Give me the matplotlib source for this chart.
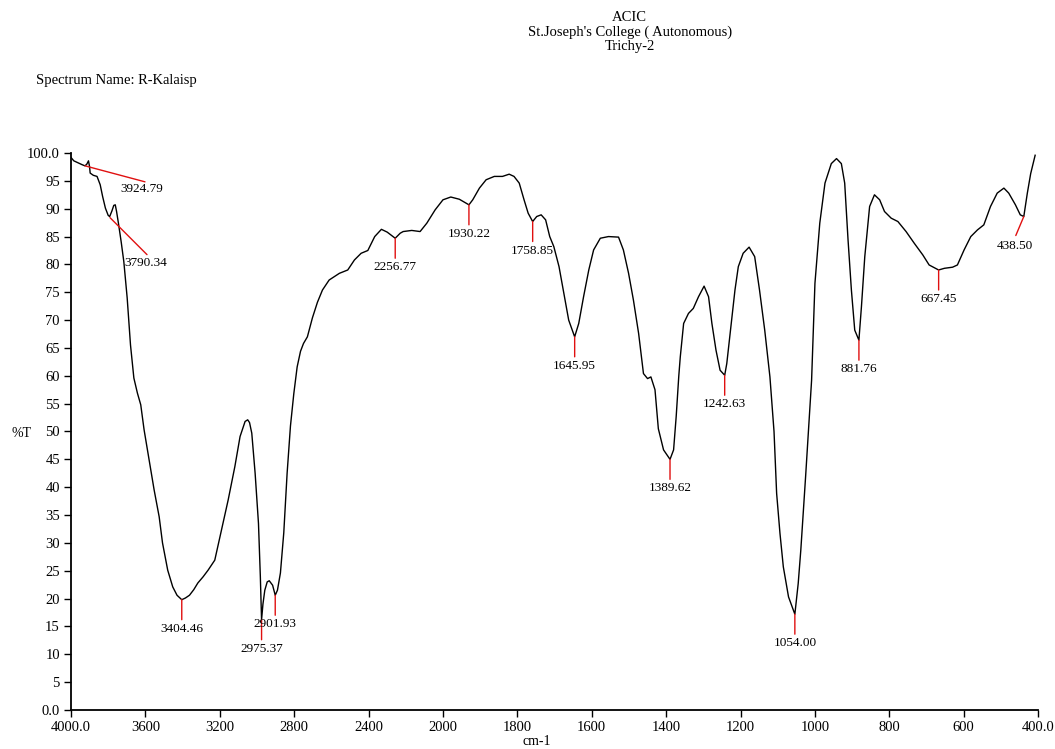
import numpy as np
import matplotlib
matplotlib.use("Agg")
import matplotlib.pyplot as plt
from matplotlib.ticker import FixedLocator, FixedFormatter

# spectrum trace (wavenumber cm-1, %T)
wavenumber = [
    4000, 3985, 3960, 3940, 3924.8, 3915, 3906, 3900, 3897, 3880, 3860, 3843,
    3830, 3815, 3800, 3792, 3780, 3770, 3762, 3755, 3745, 3730, 3716, 3698,
    3680, 3662, 3643, 3625, 3607, 3580, 3553, 3526, 3508, 3480, 3453, 3430,
    3404.5, 3385, 3363, 3340, 3318, 3290, 3263, 3227, 3191, 3155, 3119, 3091,
    3064, 3050, 3040, 3028, 3010, 2992, 2982, 2975.4, 2968, 2958, 2945, 2934,
    2916, 2901.9, 2890, 2874, 2856, 2838, 2820, 2802, 2784, 2766, 2750, 2729,
    2702, 2675, 2648, 2612, 2557, 2512, 2476, 2440, 2404, 2367, 2331, 2300,
    2256.8, 2230, 2214, 2168, 2123, 2087, 2042, 2000, 1979, 1956, 1930.2, 1920,
    1902, 1884, 1862, 1840, 1822, 1809, 1795, 1782, 1771, 1758.9, 1748, 1736,
    1724, 1713, 1702, 1688, 1675, 1662, 1646, 1635, 1622, 1608, 1595, 1577,
    1555, 1528, 1515, 1501, 1488, 1474, 1461, 1450, 1441, 1430, 1421, 1407,
    1389.6, 1380, 1373, 1366, 1362, 1353, 1340, 1327, 1313, 1298, 1286, 1277,
    1266, 1255, 1242.6, 1237, 1227, 1215, 1206, 1193, 1177, 1162, 1149, 1135,
    1121, 1110, 1103, 1094, 1085, 1071, 1054, 1045, 1038, 1025, 1009, 1000,
    987, 973, 956, 942, 929, 920, 911, 902, 893, 881.8, 875, 866,
    853, 840, 826, 813, 795, 777, 755, 733, 710, 693, 667.5, 652,
    630, 617, 599, 581, 563, 546, 528, 510, 492, 479, 461, 448,
    438.5, 429, 420, 408,
]
transmittance = [
    99.2, 98.6, 98.2, 97.9, 97.7, 98.0, 98.6, 97.5, 96.4, 96.0, 95.8, 94.3,
    92.2, 90.1, 88.8, 88.6, 89.6, 90.6, 90.7, 89.5, 87.4, 84.0, 80.5, 74.0,
    65.5, 59.6, 56.9, 54.8, 50.3, 44.9, 39.5, 34.7, 30.0, 25.1, 22.1, 20.6,
    19.8, 20.1, 20.6, 21.6, 22.8, 23.9, 25.1, 26.9, 32.3, 37.7, 43.7, 49.1,
    51.8, 52.1, 51.6, 49.7, 42.5, 33.5, 24.0, 16.2, 19.0, 21.5, 23.0, 23.2,
    22.4, 20.6, 21.5, 24.6, 31.8, 42.5, 51.0, 56.8, 61.6, 64.4, 65.8, 67.0,
    70.4, 73.2, 75.4, 77.2, 78.4, 79.0, 80.8, 82.0, 82.5, 85.0, 86.3, 85.8,
    84.7, 85.6, 85.9, 86.1, 85.9, 87.4, 89.8, 91.6, 92.1, 91.7, 90.7, 91.6,
    93.7, 95.2, 95.8, 95.8, 96.2, 95.8, 94.6, 91.6, 89.2, 87.7, 88.6, 88.9,
    88.0, 85.0, 83.2, 79.6, 74.8, 70.0, 67.0, 69.4, 74.2, 79.0, 82.6, 84.7,
    85.0, 84.9, 82.6, 78.4, 73.6, 67.6, 60.4, 59.5, 59.8, 57.5, 50.5, 46.7,
    45.0, 46.7, 52.7, 60.0, 63.4, 69.4, 71.2, 72.1, 74.2, 76.1, 74.2, 69.4,
    64.6, 61.0, 60.1, 62.2, 68.2, 75.4, 79.6, 82.0, 83.1, 81.4, 75.4, 68.2,
    59.8, 50.0, 38.9, 31.7, 25.7, 20.3, 17.2, 22.7, 28.7, 42.0, 59.2, 76.6,
    87.4, 94.6, 98.1, 99.0, 98.1, 94.6, 84.4, 75.4, 68.2, 66.4, 72.4, 81.4,
    90.4, 92.5, 91.6, 89.5, 88.3, 87.7, 85.9, 83.8, 81.7, 79.9, 79.0, 79.3,
    79.5, 79.9, 82.6, 85.0, 86.2, 87.1, 90.4, 92.8, 93.7, 92.8, 90.7, 88.9,
    88.6, 92.8, 96.3, 99.6,
]

# labelled peaks
peak_wn = [3924.79, 3790.34, 3404.46, 2975.37, 2901.93, 2256.77, 1930.22,
           1758.85, 1645.95, 1389.62, 1242.63, 1054.00, 881.76, 667.45, 438.50]
peak_t = [97.7, 88.4, 19.8, 16.2, 20.6, 84.7, 90.7,
          87.7, 67.0, 45.0, 60.1, 17.2, 66.4, 79.0, 88.6]
peak_labels = ["3924.79", "3790.34", "3404.46", "2975.37", "2901.93", "2256.77",
               "1930.22", "1758.85", "1645.95", "1389.62", "1242.63", "1054.00",
               "881.76", "667.45", "438.50"]

x_ticks = [4000, 3600, 3200, 2800, 2400, 2000, 1800, 1600, 1400, 1200, 1000, 800, 600, 400]
x_tick_labels = ["4000.0", "3600", "3200", "2800", "2400", "2000", "1800", "1600",
                 "1400", "1200", "1000", "800", "600", "400.0"]
y_ticks = list(range(0, 101, 5))
y_tick_labels = ["0.0"] + [str(v) for v in y_ticks[1:-1]] + ["100.0"]

# line end / label offsets in pixels; slanted leaders for three peaks
lead_end = {"3924.79": (60, -16), "3790.34": (37, -37), "438.50": (-8, -19)}
label_off = {"3924.79": (57, -23), "3790.34": (36, -45), "438.50": (-9, -29)}


def fwd(x):
    x = np.asarray(x, dtype=float)
    return np.where(x > 2000, 2000 + (x - 2000) / 2.0, x)


def inv(u):
    u = np.asarray(u, dtype=float)
    return np.where(u > 2000, 2000 + (u - 2000) * 2.0, u)


plt.rcParams["font.family"] = ["Liberation Serif", "DejaVu Serif"]

fig = plt.figure(figsize=(10.55, 7.49), dpi=100)
ax = fig.add_axes([0.0673, 0.0521, 0.9167, 0.7436])

ax.plot(wavenumber, transmittance, color="black", lw=1.0)

ax.set_xscale("function", functions=(fwd, inv))
ax.set_xlim(4000, 400)
ax.set_ylim(0, 100)
ax.xaxis.set_major_locator(FixedLocator(x_ticks))
ax.xaxis.set_major_formatter(FixedFormatter(x_tick_labels))
ax.xaxis.set_minor_locator(FixedLocator([]))
ax.set_yticks(y_ticks)
ax.set_yticklabels(y_tick_labels)

for s in ["top", "right"]:
    ax.spines[s].set_visible(False)
for s in ["left", "bottom"]:
    ax.spines[s].set_linewidth(1.3)
ax.tick_params(direction="out", length=5, width=1.0, labelsize=10.5, pad=3)

for wn, t, lab in zip(peak_wn, peak_t, peak_labels):
    end = lead_end.get(lab, (0, -20))
    txt = label_off.get(lab, (0, -29))
    ax.annotate("", xy=(wn, t), xytext=end, textcoords="offset pixels",
                arrowprops=dict(arrowstyle="-", color="#e01010", lw=1.0,
                                shrinkA=0, shrinkB=0))
    ax.annotate(lab, xy=(wn, t), xytext=txt, textcoords="offset pixels",
                ha="center", va="center", fontsize=9.5)

ax.set_ylabel("%T", rotation=0, fontsize=10)
ax.yaxis.set_label_coords(-0.051, 0.485)
ax.set_xlabel("cm-1", fontsize=10, va="center")
ax.xaxis.set_label_coords(0.482, -0.056)

fig.text(0.597, 0.985, "ACIC\nSt.Joseph's College ( Autonomous)\nTrichy-2",
         ha="center", va="top", fontsize=10.5, linespacing=1.12)
fig.text(0.034, 0.893, "Spectrum Name: R-Kalaisp", ha="left", va="center", fontsize=10.5)

fig.savefig("out.png", dpi=100)
